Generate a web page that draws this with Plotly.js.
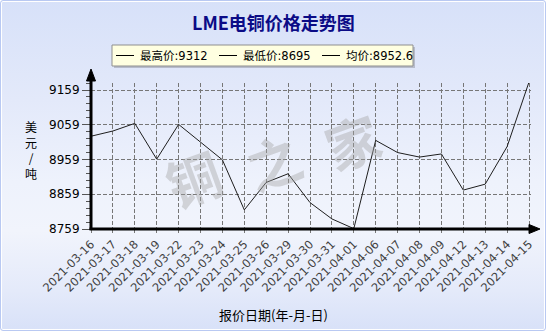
<!DOCTYPE html>
<html>
<head>
<meta charset="utf-8">
<script src="https://cdn.plot.ly/plotly-3.0.1.min.js"></script>
<style>
  html, body { margin: 0; padding: 0; background: #ffffff; }
  #wrap {
    position: absolute; left: 0; top: 0; width: 544px; height: 329px;
    border: 1px solid #b9c9f2; border-radius: 3px;
    box-shadow: inset 0 0 0 1px #ffffff;
    background: linear-gradient(to bottom, #d7e1f9 0%, #e3e9fa 30%, #eef2fc 55%, #f1f4fc 70%, #e4eafa 88%, #d8e1f8 100%);
  }
  #chart { position: absolute; left: -1px; top: -1px; width: 546px; height: 331px; }
</style>
</head>
<body>
<div id="wrap"><div id="chart"></div></div>
<script>
// ---- data ----
var dates = ['2021-03-16','2021-03-17','2021-03-18','2021-03-19','2021-03-22','2021-03-23','2021-03-24',
             '2021-03-25','2021-03-26','2021-03-29','2021-03-30','2021-03-31','2021-04-01','2021-04-06',
             '2021-04-07','2021-04-08','2021-04-09','2021-04-12','2021-04-13','2021-04-14','2021-04-15'];
var prices = [9026, 9041, 9063, 8960, 9060, 9008, 8958,
              8814, 8893, 8918, 8835, 8788, 8760, 9014,
              8979, 8966, 8975, 8871, 8888, 8996, 9182];
var yTickVals = [8759, 8859, 8959, 9059, 9159];
var yTickText = ['8759', '8859', '8959', '9059', '9159'];
var legendItems = ['最高价:9312', '最低价:8695', '均价:8952.6'];
var watermark = ['铜', '之', '家'];
var titleText = 'LME电铜价格走势图';
var yTitleText = '美<br>元<br>/<br>吨';
var xTitleText = '报价日期(年-月-日)';

// ---- layout geometry (pixels) ----
var W = 546, H = 331, L = 91, R = 15, T = 83, B = 102;
var pw = W - L - R, ph = H - T - B;
function px(x) { return (x - L) / pw; }
function py(y) { return (H - B - y) / ph; }

var font = 'DejaVu Sans, Noto Sans CJK SC, sans-serif';
var cjk = 'Noto Sans CJK SC, DejaVu Sans, sans-serif';

var trace = {
  x: dates, y: prices, type: 'scatter', mode: 'lines',
  line: { color: '#1e1e1e', width: 1 }, cliponaxis: false, hoverinfo: 'skip'
};

var shapes = [
  // legend shadow + box
  { type: 'rect', xref: 'paper', yref: 'paper', x0: px(114), x1: px(415), y0: py(47), y1: py(68),
    fillcolor: '#b7bccb', line: { width: 0 }, layer: 'below' },
  { type: 'rect', xref: 'paper', yref: 'paper', x0: px(112), x1: px(413), y0: py(45), y1: py(66),
    fillcolor: '#ffffe1', line: { color: '#8f8f8f', width: 1 }, layer: 'below' },
  // y axis line + arrow
  { type: 'line', xref: 'paper', yref: 'paper', x0: 0, x1: 0, y0: py(230), y1: py(78),
    line: { color: '#000', width: 3 } },
  { type: 'path', xref: 'paper', yref: 'paper',
    path: 'M ' + px(91) + ',' + py(69) + ' L ' + px(95.5) + ',' + py(81) + ' L ' + px(86.5) + ',' + py(81) + ' Z',
    fillcolor: '#000', line: { color: '#000', width: 1 } },
  // x axis line + arrow
  { type: 'line', xref: 'paper', yref: 'paper', x0: px(89.5), x1: px(532), y0: 0, y1: 0,
    line: { color: '#000', width: 3 } },
  { type: 'path', xref: 'paper', yref: 'paper',
    path: 'M ' + px(540) + ',' + py(229) + ' L ' + px(529) + ',' + py(224.5) + ' L ' + px(529) + ',' + py(233.5) + ' Z',
    fillcolor: '#000', line: { color: '#000', width: 1 } }
];

var annotations = [
  { text: titleText, xref: 'paper', yref: 'paper', x: px(273), y: py(22), showarrow: false,
    font: { family: cjk, size: 18, color: '#0b0b86', weight: 'bold' }, xanchor: 'center', yanchor: 'middle' },
  { text: yTitleText, xref: 'paper', yref: 'paper', x: px(31), y: py(150), showarrow: false,
    font: { family: cjk, size: 12, color: '#000' }, xanchor: 'center', yanchor: 'middle' },
  { text: xTitleText, xref: 'paper', yref: 'paper', x: px(273), y: py(314), showarrow: false,
    font: { family: cjk, size: 13, color: '#000' }, xanchor: 'center', yanchor: 'middle' }
];

// watermark characters (drawn first, under other annotations)
var wmX = [193, 273, 352], wmY = [177, 160, 140];
watermark.forEach(function (t, i) {
  annotations.unshift({ text: t, xref: 'paper', yref: 'paper', x: px(wmX[i]), y: py(wmY[i]), showarrow: false,
    textangle: -20, font: { family: cjk, size: 54, color: 'rgba(165,165,165,0.42)', weight: 'bold' },
    xanchor: 'center', yanchor: 'middle' });
});

// legend entries: short black line + text
var legLineX = [116, 219, 322];
legendItems.forEach(function (t, i) {
  var x0 = legLineX[i];
  shapes.push({ type: 'line', xref: 'paper', yref: 'paper', x0: px(x0), x1: px(x0 + 18),
    y0: py(55.5), y1: py(55.5), line: { color: '#000', width: 1 } });
  annotations.push({ text: t, xref: 'paper', yref: 'paper', x: px(x0 + 22), y: py(56), showarrow: false,
    font: { family: font, size: 11.5, color: '#000' }, xanchor: 'left', yanchor: 'middle' });
});

var layout = {
  width: W, height: H,
  margin: { l: L, r: R, t: T, b: B, pad: 0 },
  paper_bgcolor: 'rgba(0,0,0,0)', plot_bgcolor: 'rgba(0,0,0,0)',
  showlegend: false,
  xaxis: {
    type: 'category', range: [0, pw / 21.9],
    tickangle: -45, tickfont: { family: font, size: 11.5, color: '#3f3f3f' },
    ticks: 'outside', ticklen: 3, tickcolor: '#777',
    showgrid: true, gridcolor: '#767676', griddash: '4px,2px', gridwidth: 1,
    showline: false, zeroline: false, fixedrange: true
  },
  yaxis: {
    range: [8759, 8759 + ph / 0.3475],
    tickvals: yTickVals, ticktext: yTickText,
    tickfont: { family: font, size: 12, color: '#000' },
    ticks: 'outside', ticklen: 8, tickcolor: '#555',
    minor: { tick0: 8759, dtick: 20, ticks: 'outside', ticklen: 4, tickcolor: '#555', showgrid: false },
    showgrid: true, gridcolor: '#767676', griddash: '4px,2px', gridwidth: 1,
    showline: false, zeroline: false, fixedrange: true
  },
  shapes: shapes,
  annotations: annotations
};

Plotly.newPlot('chart', [trace], layout, { displayModeBar: false, staticPlot: true });
</script>
</body>
</html>
